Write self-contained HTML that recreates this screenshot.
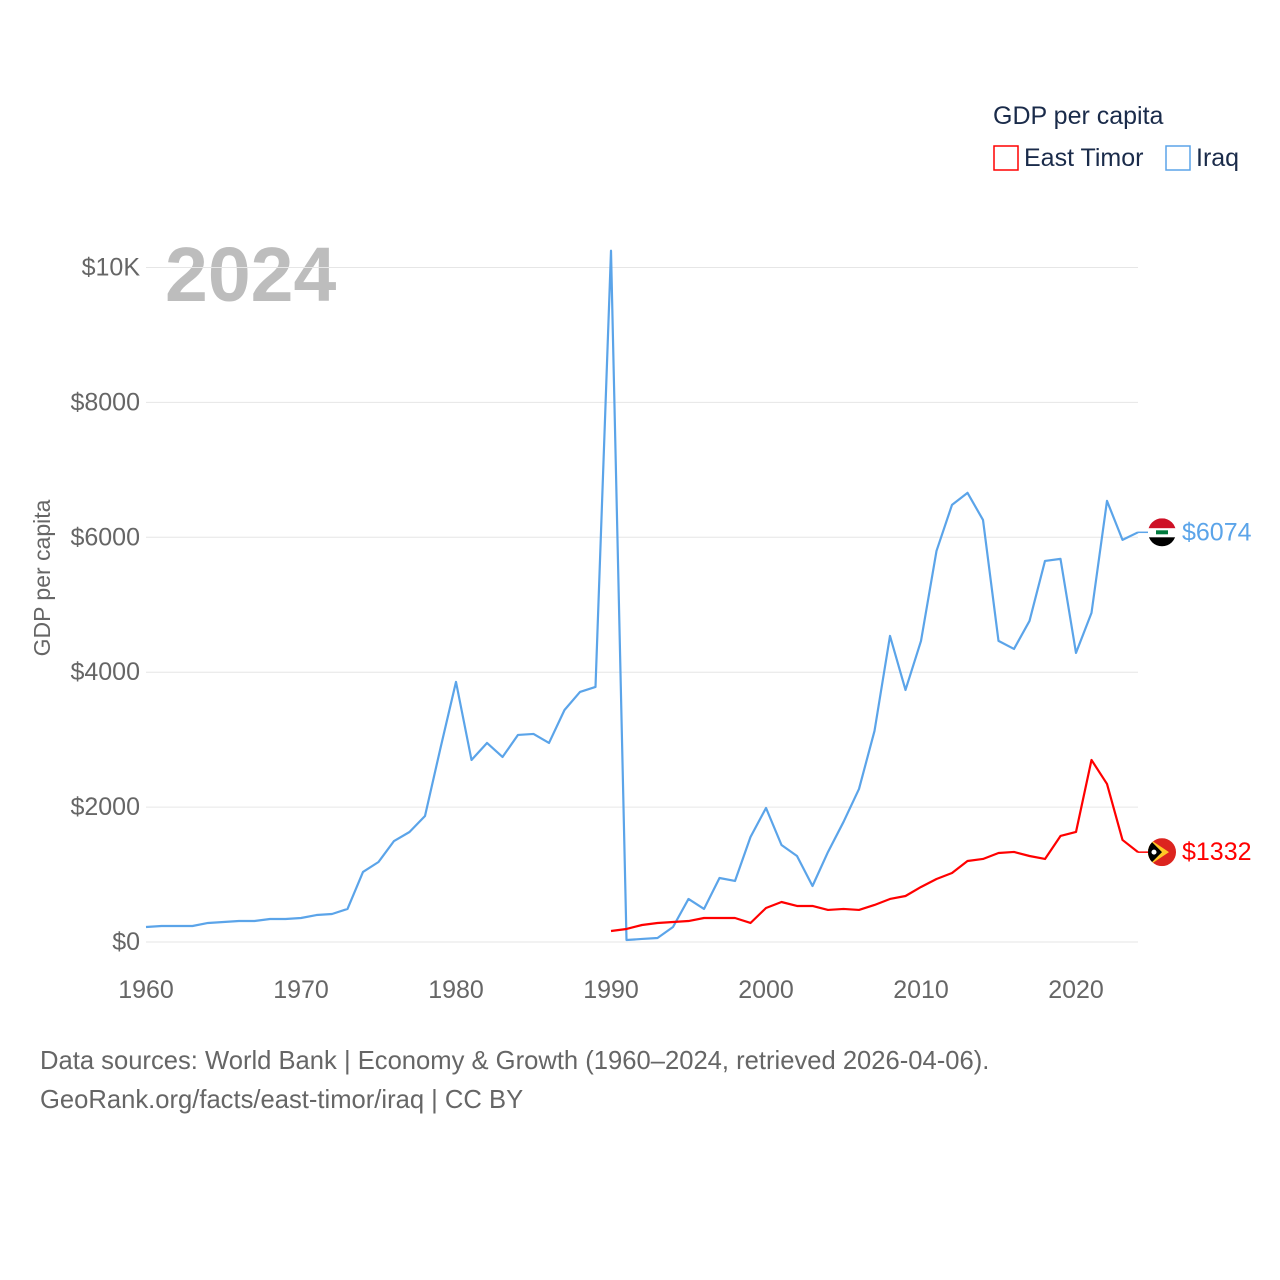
<!DOCTYPE html>
<html><head><meta charset="utf-8"><style>
body{margin:0;background:#fff;width:1280px;height:1280px;overflow:hidden;font-family:"Liberation Sans",sans-serif}
svg{display:block}
</style></head><body>
<svg id="chart" width="1280" height="1280">
<text x="993" y="124" font-size="25" fill="#1a2b4a">GDP per capita</text>
<g><rect x="994" y="146" width="24" height="24" fill="none" stroke="#ff0000" stroke-width="1.5"/><text x="1024" y="166" font-size="25" fill="#1a2b4a">East Timor</text></g>
<g><rect x="1166" y="146" width="24" height="24" fill="none" stroke="#5ba4e9" stroke-width="1.5"/><text x="1196" y="166" font-size="25" fill="#1a2b4a">Iraq</text></g>
<text x="165" y="301" font-size="77" font-weight="bold" fill="#bdbdbd">2024</text>
<text transform="translate(50,578) rotate(-90)" text-anchor="middle" font-size="23" fill="#666">GDP per capita</text>
<g id="grid"></g><g id="lines"></g>
<text x="40" y="1069" font-size="25.6" fill="#666">Data sources: World Bank | Economy &amp; Growth (1960–2024, retrieved 2026-04-06).</text>
<text x="40" y="1108" font-size="25.6" fill="#666">GeoRank.org/facts/east-timor/iraq | CC BY</text>
</svg>
<script>
const years=[];for(let y=1960;y<=2024;y++)years.push(y);
const iraq=[222,237,237,237,282,297,311,311,341,341,356,400,415,490,1038,1186,1497,1631,1868,2877,3856,2699,2951,2743,3070,3085,2951,3440,3707,3782,10248,30,45,59,222,638,490,949,905,1557,1987,1438,1275,830,1335,1780,2269,3129,4538,3737,4464,5798,6481,6659,6258,4464,4345,4760,5650,5680,4286,4879,6540,5962,6074];
const timorYears=[];for(let y=1990;y<=2024;y++)timorYears.push(y);
const timor=[163,193,252,282,297,311,356,356,356,282,504,593,534,534,475,490,475,549,638,682,816,934,1023,1201,1231,1320,1335,1275,1231,1572,1631,2699,2343,1513,1332];
const yTicks=[0,2000,4000,6000,8000,10000];
const yTickLabels=["$0","$2000","$4000","$6000","$8000","$10K"];
const xTicks=[1960,1970,1980,1990,2000,2010,2020];
const X=y=>146+(y-1960)*15.5;
const Y=v=>942-v*0.06745;
const NS="http://www.w3.org/2000/svg";
const grid=document.getElementById('grid'),lines=document.getElementById('lines');
function mk(tag,attrs,parent){const e=document.createElementNS(NS,tag);for(const k in attrs)e.setAttribute(k,attrs[k]);parent.appendChild(e);return e;}
yTicks.forEach((v,i)=>{
 const l=mk('line',{x1:146,x2:1138,y1:Y(v),y2:Y(v),stroke:'#e6e6e6','stroke-width':1},grid);
 
 
 const t=mk('text',{x:140,y:Y(v)+8,'text-anchor':'end','font-size':25,fill:'#666'},grid);
 t.textContent=yTickLabels[i];
 
 
});
xTicks.forEach(v=>{
 const t=mk('text',{x:X(v),y:998,'text-anchor':'middle','font-size':25,fill:'#666'},grid);
 t.textContent=v;
 
 
});
function series(xs,vs,color,name){
 const p=mk('polyline',{points:xs.map((x,i)=>X(x)+','+Y(vs[i])).join(' '),fill:'none',stroke:color,'stroke-width':2.2,'stroke-linejoin':'round'},lines);
 
 
}
series(years,iraq,'#5ba4e9','iraq-line');
series(timorYears,timor,'#ff0000','east-timor-line');
function endMark(vs,color,name,flag){
 const v=vs[vs.length-1],y=Y(v);
 mk('line',{x1:X(2024),x2:1148,y1:y,y2:y,stroke:color,'stroke-width':1.5},lines);
 const g=mk('g',{},lines);
 
 
 flag(g,1162,y);
 const t=mk('text',{x:1182,y:y+8,'font-size':25,fill:color},lines);
 t.textContent='$'+v;
 
 
}
endMark(iraq,'#5ba4e9','iraq',(g,cx,cy)=>{
 const cp=mk('clipPath',{id:'ciq'},g);mk('circle',{cx,cy,r:14},cp);
 const h=mk('g',{'clip-path':'url(#ciq)'},g);
 mk('rect',{x:cx-14,y:cy-14,width:28,height:10,fill:'#ce1126'},h);
 mk('rect',{x:cx-14,y:cy-4,width:28,height:9,fill:'#fff'},h);
 mk('rect',{x:cx-14,y:cy+5,width:28,height:10,fill:'#000'},h);
 mk('rect',{x:cx-6,y:cy-2,width:12,height:4,fill:'#007a3d'},h);
});
endMark(timor,'#ff0000','east-timor',(g,cx,cy)=>{
 const cp=mk('clipPath',{id:'ctl'},g);mk('circle',{cx,cy,r:14},cp);
 const h=mk('g',{'clip-path':'url(#ctl)'},g);
 mk('rect',{x:cx-14,y:cy-14,width:28,height:28,fill:'#dc241f'},h);
 mk('polygon',{points:`${cx-14},${cy-14} ${cx+7},${cy} ${cx-14},${cy+14}`,fill:'#ffc726'},h);
 mk('polygon',{points:`${cx-14},${cy-14} ${cx},${cy} ${cx-14},${cy+14}`,fill:'#000'},h);
 mk('circle',{cx:cx-8,cy:cy,r:2.5,fill:'#fff'},h);
});
</script>
</body></html>
